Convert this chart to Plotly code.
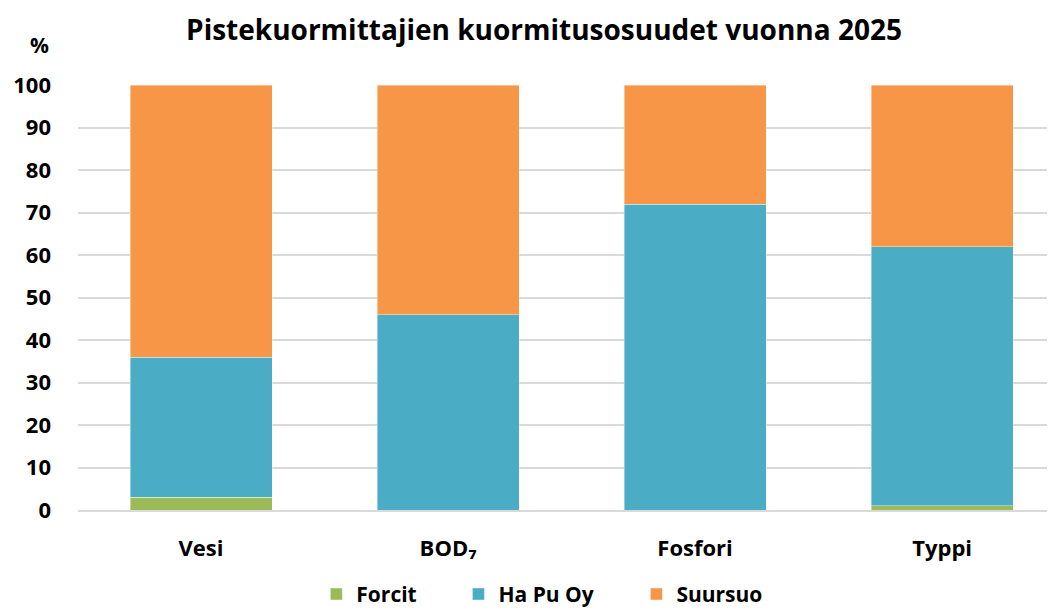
import plotly.graph_objects as go

categories = ["Vesi", "BOD₇", "Fosfori", "Typpi"]
forcit = [3, 0, 0, 1]
hapuoy = [33, 46, 72, 61]
suursuo = [64, 54, 28, 38]
series_names = ["Forcit", "Ha Pu Oy", "Suursuo"]
colors = ["#9BBB59", "#4BACC6", "#F79646"]
title_text = "Pistekuormittajien kuormitusosuudet vuonna 2025"
y_ticks = list(range(0, 101, 10))

FONT = "Open Sans"
W, H = 1047, 602
legend_ids = ["legend", "legend2", "legend3"]
legend_x = [0.2945, 0.4302, 0.6002]

fig = go.Figure()
for name, vals, col, lid in zip(series_names, [forcit, hapuoy, suursuo], colors, legend_ids):
    fig.add_trace(go.Bar(
        x=categories, y=vals, name="<b>" + name + "</b>", legend=lid, showlegend=True,
        marker=dict(color=col, line=dict(color="rgba(255,255,255,0.5)", width=0.8)),
        width=0.575,
    ))

legend_common = dict(orientation="h", xanchor="left", y=0.026, yanchor="middle",
                     xref="container", yref="container",
                     font=dict(family=FONT, size=21, color="#000000"),
                     bgcolor="rgba(0,0,0,0)")
layout_legends = {lid: dict(x=lx, **legend_common) for lid, lx in zip(legend_ids, legend_x)}

fig.update_layout(
    barmode="stack",
    showlegend=True,
    width=W, height=H,
    margin=dict(l=70, r=0, t=77, b=100),
    plot_bgcolor="white", paper_bgcolor="white",
    font=dict(family=FONT, color="#000000", size=18),
    title=dict(text="<b>" + title_text + "</b>", x=0.477, xref="paper", xanchor="center",
               y=0.9635, yref="container", yanchor="middle",
               font=dict(family=FONT, size=28, color="#000000")),
    xaxis=dict(type="category", range=[-0.498, 3.457], showgrid=False, automargin=False,
               showline=True, linecolor="#d9d9d9", linewidth=2,
               tickvals=categories, ticktext=[f"<b>{c}</b>" for c in categories],
               tickfont=dict(family=FONT, size=22, color="#000000"),
               ticks="", ticklabelstandoff=18),
    yaxis=dict(range=[0, 100], tickvals=y_ticks, ticktext=[f"<b>{v}</b>" for v in y_ticks],
               showgrid=True, gridcolor="#d9d9d9", gridwidth=1.5, zeroline=False, automargin=False,
               tickfont=dict(family=FONT, size=22, color="#000000"),
               ticks="", ticklabelstandoff=26),
    annotations=[dict(text="<b>%</b>", x=-0.0389, y=1.094, xref="paper", yref="paper",
                      xanchor="center", yanchor="middle",
                      showarrow=False, font=dict(family=FONT, size=21, color="#000000"))],
    **layout_legends,
)

fig.write_html("out.html")
